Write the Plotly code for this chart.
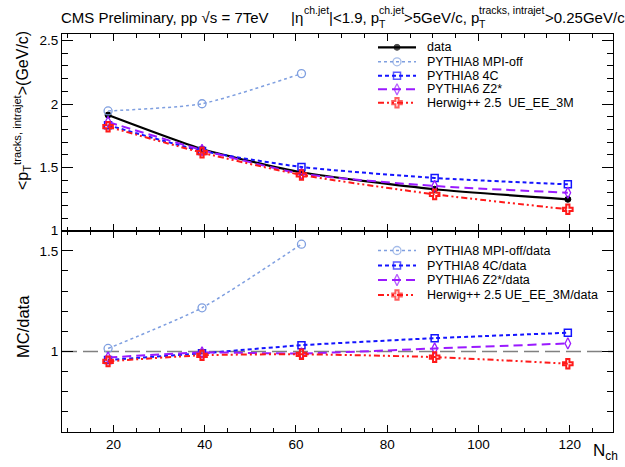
import plotly.graph_objects as go

# ---- data ----
nch = [18.8, 39.4, 61.2, 90.4, 119.6]
nch_mpioff = [18.8, 39.4, 61.2]

data_pt = [1.913, 1.645, 1.461, 1.327, 1.248]
mpioff_pt = [1.945, 2.002, 2.240]
p8_4c_pt = [1.833, 1.630, 1.503, 1.416, 1.366]
p6_z2_pt = [1.858, 1.637, 1.450, 1.353, 1.300]
herwig_pt = [1.821, 1.616, 1.440, 1.287, 1.169]

mpioff_ratio = [1.015, 1.217, 1.533]
p8_4c_ratio = [0.958, 0.991, 1.031, 1.066, 1.093]
p6_z2_ratio = [0.970, 0.995, 0.990, 1.015, 1.040]
herwig_ratio = [0.951, 0.981, 0.986, 0.972, 0.939]

x_ticks = [20, 40, 60, 80, 100, 120]
top_legend = ["data", "PYTHIA8 MPI-off", "PYTHIA8 4C", "PYTHIA6 Z2*", "Herwig++ 2.5  UE_EE_3M"]
bot_legend = ["PYTHIA8 MPI-off/data", "PYTHIA8 4C/data", "PYTHIA6 Z2*/data", "Herwig++ 2.5 UE_EE_3M/data"]

FONT = "Liberation Sans, Arial, sans-serif"
C_MPI = "#7f9fe0"
C_4C = "#1414ff"
C_Z2 = "#9a1aff"
C_HW = "#ff1a1a"

STY = {
    "data": dict(color="black", dash="solid", symbol="circle", size=6, width=2.2, mlw=1),
    "mpi": dict(color=C_MPI, dash="dot", symbol="circle-open", size=8, width=1.5, mlw=1.3),
    "4c": dict(color=C_4C, dash="4px,3px", symbol="square-open", size=7, width=2, mlw=1.5),
    "z2": dict(color=C_Z2, dash="9px,5px", symbol="diamond-tall-open", size=8, width=2, mlw=1.3),
    "hw": dict(color=C_HW, dash="6px,3px,2px,3px,2px,3px", symbol="cross-open", size=8, width=2, mlw=2),
}

# page geometry (pixels)
W, H = 625, 467
ML, MR, MT, MB = 62, 12, 34, 35
PL, PR, PT, PB = ML, W - MR, MT, H - MB
SPLIT_PX = 230.7
split = (PB - SPLIT_PX) / (PB - PT)


def px(x):
    return (x - PL) / (PR - PL)


def py(y):
    return (PB - y) / (PB - PT)


fig = go.Figure()


def add(x, y, key, xa, ya):
    s = STY[key]
    fig.add_trace(go.Scatter(
        x=x, y=y, mode="lines+markers", showlegend=False,
        line=dict(color=s["color"], dash=s["dash"], width=s["width"], shape="spline", smoothing=0.6),
        marker=dict(symbol=s["symbol"], size=s["size"], color=s["color"],
                    line=dict(color=s["color"], width=s["mlw"])),
        xaxis=xa, yaxis=ya))


# top panel
add(nch, data_pt, "data", "x2", "y2")
add(nch_mpioff, mpioff_pt, "mpi", "x2", "y2")
add(nch, p8_4c_pt, "4c", "x2", "y2")
add(nch, p6_z2_pt, "z2", "x2", "y2")
add(nch, herwig_pt, "hw", "x2", "y2")

# bottom panel
add(nch_mpioff, mpioff_ratio, "mpi", "x", "y")
add(nch, p8_4c_ratio, "4c", "x", "y")
add(nch, p6_z2_ratio, "z2", "x", "y")
add(nch, herwig_ratio, "hw", "x", "y")


# hand-made legends (ROOT-like compact rows) on a pixel overlay axis
def legend_rows(labels, keys, rows_y):
    for lab, key, ry in zip(labels, keys, rows_y):
        s = STY[key]
        fig.add_trace(go.Scatter(
            x=[378, 397, 416], y=[ry, ry, ry], mode="lines+markers", showlegend=False,
            line=dict(color=s["color"], dash=s["dash"], width=s["width"]),
            marker=dict(symbol=s["symbol"], size=[0, s["size"], 0], color=s["color"],
                        line=dict(color=s["color"], width=s["mlw"])),
            xaxis="x3", yaxis="y3", hoverinfo="skip", cliponaxis=False))
        fig.add_annotation(xref="paper", yref="paper", x=px(425), y=py(ry), xanchor="left",
                           yanchor="middle", text=lab, showarrow=False,
                           font=dict(family=FONT, size=12.5, color="black"))


legend_rows(top_legend, ["data", "mpi", "4c", "z2", "hw"], [47.3, 61.8, 75.7, 89.3, 102.7])
legend_rows(bot_legend, ["mpi", "4c", "z2", "hw"], [250.5, 265.5, 280, 295])

XR = [8.7, 129.5]

axis_common = dict(showline=True, linecolor="black", linewidth=1, mirror="allticks",
                   ticks="inside", tickcolor="black", showgrid=False, zeroline=False,
                   automargin=False,
                   tickfont=dict(family=FONT, size=13.5, color="black"))
xminor = dict(dtick=5, tick0=0, ticklen=4, ticks="inside", tickcolor="black")
yminor = dict(dtick=0.1, tick0=0, ticklen=6, ticks="inside", tickcolor="black")

fig.update_layout(
    width=W, height=H,
    margin=dict(l=ML, r=MR, t=MT, b=MB),
    paper_bgcolor="white", plot_bgcolor="rgba(0,0,0,0)",
    font=dict(family=FONT, color="black"),
    showlegend=False,
    xaxis=dict(domain=[0, 1], range=XR, anchor="y", tickvals=x_ticks, ticklen=7,
               minor=xminor, **axis_common),
    yaxis=dict(domain=[0, split], range=[0.6, 1.6], anchor="x", tickvals=[1, 1.5],
               ticklen=11, minor=yminor, **axis_common),
    xaxis2=dict(domain=[0, 1], range=XR, anchor="y2", matches="x", showticklabels=False,
                tickvals=x_ticks, ticklen=7, minor=xminor, **axis_common),
    yaxis2=dict(domain=[split, 1], range=[1.0, 1.0 + (SPLIT_PX - PT) / 126.7], anchor="x2",
                tickvals=[1, 1.5, 2, 2.5], ticklen=11, minor=yminor, **axis_common),
    xaxis3=dict(domain=[0, 1], range=[PL, PR], anchor="y3", visible=False, fixedrange=True),
    yaxis3=dict(domain=[0, 1], range=[PB, PT], anchor="x3", visible=False, fixedrange=True),
)

# reference line at 1 in ratio panel
fig.add_shape(type="line", xref="x", yref="y", x0=XR[0], x1=XR[1], y0=1, y1=1,
              line=dict(color="#808080", width=1.5, dash="15px,6px"), layer="below")

# title pieces (ROOT stacks super/subscripts)
main_f = dict(family=FONT, size=15, color="black")
scr_f = dict(family=FONT, size=10.5, color="black")
Y_MAIN, Y_SUP, Y_SUB = 17, 10, 24


def txt(x, y, s, f):
    fig.add_annotation(xref="paper", yref="paper", x=px(x), y=py(y), xanchor="left",
                       yanchor="middle", text=s, showarrow=False, font=f)


txt(59, Y_MAIN, "CMS Preliminary, pp \u221as = 7TeV", main_f)
txt(289, Y_MAIN, "|\u03b7", main_f)
txt(302, Y_SUP, "ch.jet", scr_f)
txt(327, Y_MAIN, "|<1.9, p", main_f)
txt(377, Y_SUB, "T", scr_f)
txt(377, Y_SUP, "ch.jet", scr_f)
txt(402, Y_MAIN, ">5GeV/c, p", main_f)
txt(477, Y_SUB, "T", scr_f)
txt(477, Y_SUP, "tracks, intrajet", scr_f)
txt(543, Y_MAIN, ">0.25GeV/c", main_f)

# axis titles
fig.add_annotation(xref="paper", yref="paper", x=px(22), y=py(111), xanchor="center", yanchor="middle",
                   text="<p<sub>T</sub><sup>tracks, intrajet</sup>>(GeV/c)", textangle=-90,
                   showarrow=False, font=dict(family=FONT, size=16, color="black"))
fig.add_annotation(xref="paper", yref="paper", x=px(23), y=py(327), xanchor="center", yanchor="middle",
                   text="MC/data", textangle=-90,
                   showarrow=False, font=dict(family=FONT, size=16.5, color="black"))
fig.add_annotation(xref="paper", yref="paper", x=px(605), y=py(452), xanchor="center", yanchor="middle",
                   text="N<sub>ch</sub>", showarrow=False, font=dict(family=FONT, size=17, color="black"))

fig.write_html("out.html", post_script="document.body.style.margin='0';",
               config={"displayModeBar": False})
